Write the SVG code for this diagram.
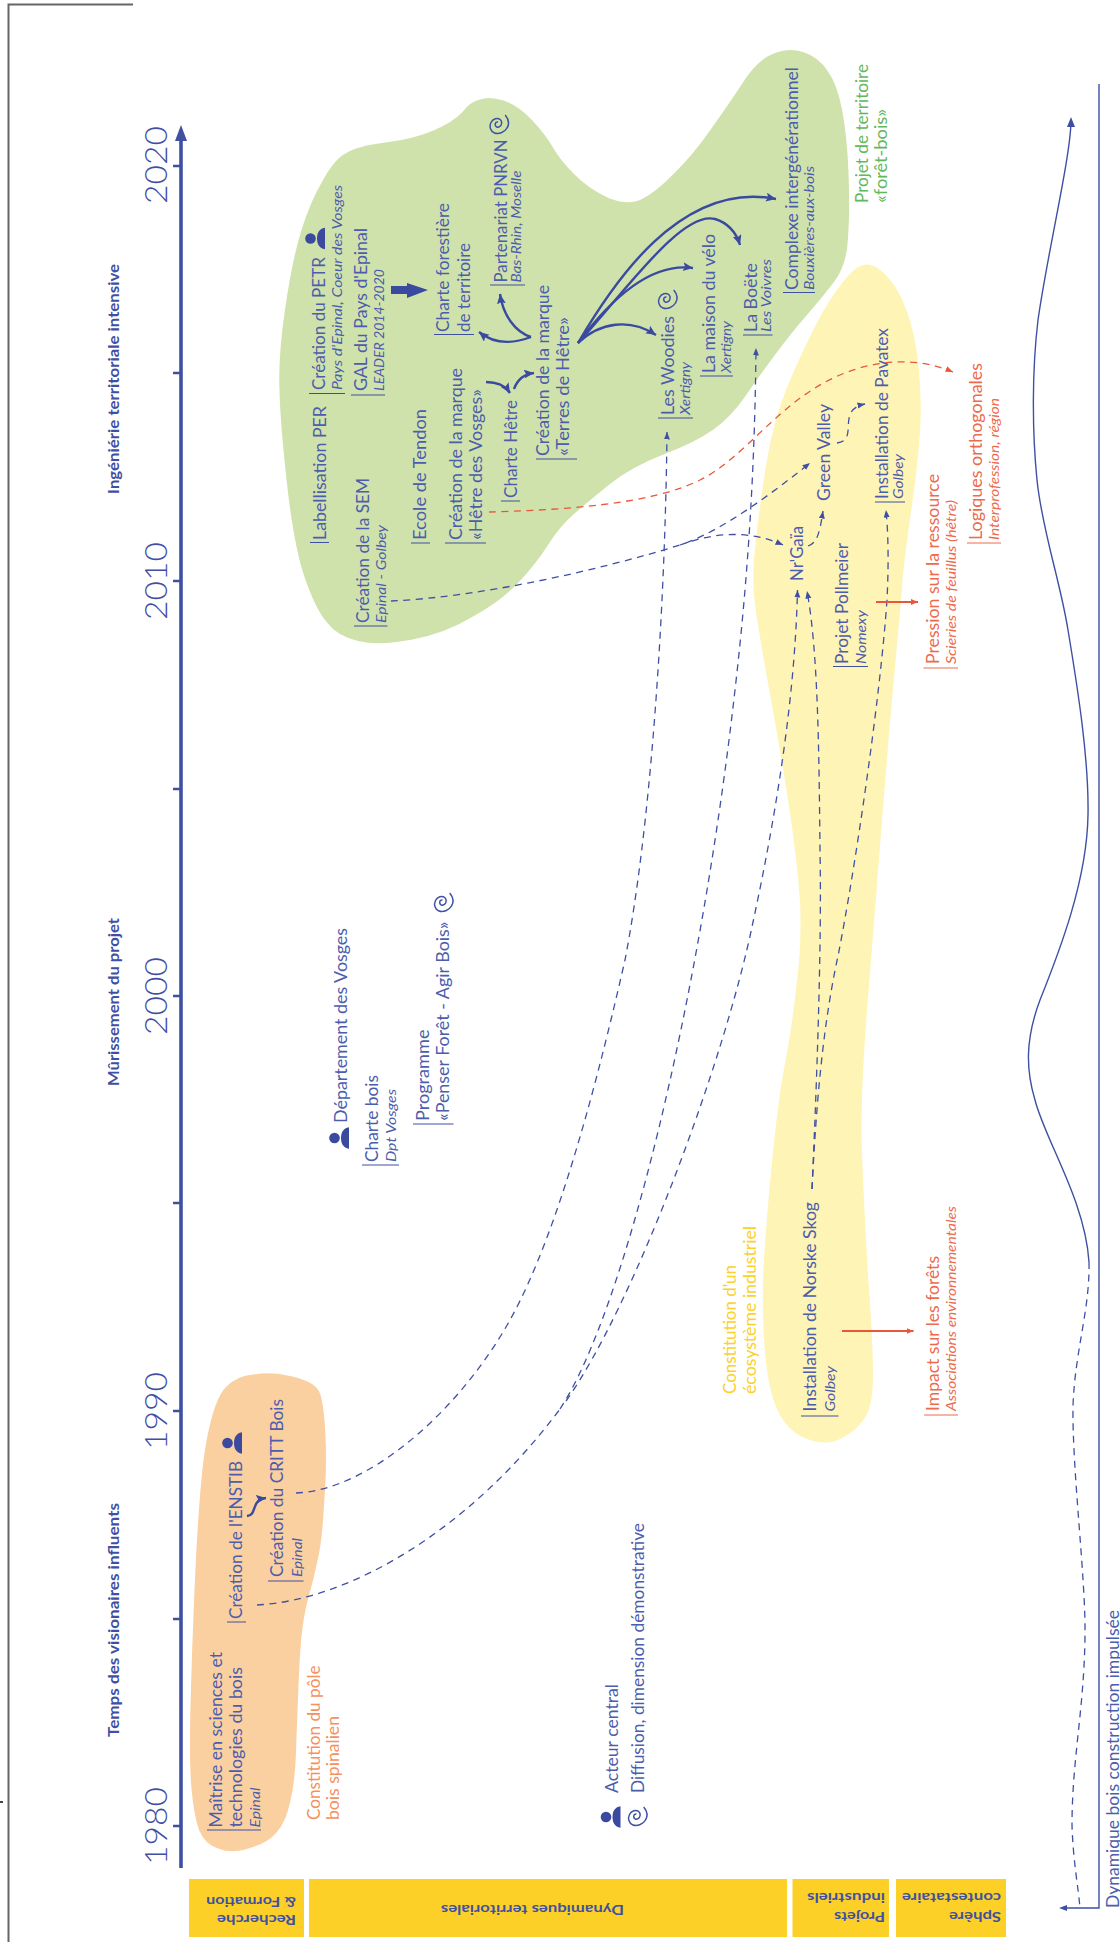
<svg xmlns="http://www.w3.org/2000/svg" xmlns:xlink="http://www.w3.org/1999/xlink" width="1120" height="1942" viewBox="0 0 1120 1942">
<style>
text{font-family:"Lato","Liberation Sans",sans-serif;fill:#4d5dad}
.m{font-size:17.500px;font-weight:400}
.i{font-size:14px;font-weight:400;font-style:italic}
.y{font-size:31px;font-weight:300;fill:#3f50a3}
.h{font-size:14.500px;font-weight:700;text-anchor:middle;fill:#3f50a3}
.b{font-size:14px;font-weight:700;fill:#3f50a3}
.r{fill:#ee6a4d}
.o{fill:#f5915e}
.g{fill:#62b85c}
.ye{fill:#fdd02a}
.bar{stroke:#3f50a3;stroke-width:1;fill:none}
.barr{stroke:#ee6a4d;stroke-width:1;fill:none}
.band{fill:#fcd026}
.d{fill:none;stroke:#3f50a3;stroke-width:1.300;stroke-dasharray:7 5.500}
.dr{fill:none;stroke:#e9573a;stroke-width:1.300;stroke-dasharray:7 5.500;marker-end:url(#ar)}
.t{fill:none;stroke:#3a4a9f;stroke-width:2.400;marker-end:url(#at)}
.tip{marker-end:url(#ad)}
.sol{fill:none;stroke:#3f50a3;stroke-width:1.400}
.sr{fill:none;stroke:#e9573a;stroke-width:1.800;marker-end:url(#ar2)}
.ic{fill:#3a4a9f}
.sp{fill:none;stroke:#3f50a3;stroke-width:1.500}
</style>
<defs>
<marker id="ad" markerUnits="userSpaceOnUse" markerWidth="9" markerHeight="7" refX="7.500" refY="3" orient="auto"><path d="M0,0 L7.500,3 L0,6 Z" fill="#3f50a3"/></marker>
<marker id="at" markerUnits="userSpaceOnUse" markerWidth="12" markerHeight="10" refX="10" refY="4.500" orient="auto"><path d="M0,0 L10,4.500 L0,9 L2,4.500 Z" fill="#3a4a9f"/></marker>
<marker id="ar" markerUnits="userSpaceOnUse" markerWidth="9" markerHeight="7" refX="7.500" refY="3" orient="auto"><path d="M0,0 L7.500,3 L0,6 Z" fill="#e9573a"/></marker>
<marker id="ar2" markerUnits="userSpaceOnUse" markerWidth="9" markerHeight="7" refX="7" refY="3" orient="auto"><path d="M0,0 L7,3 L0,6 Z" fill="#e9573a"/></marker>
<path id="spiral" class="sp" d="M6.700,-10 C10,-6 11,-1 8.500,3 C6,7.500 0,9.500 -4,8 C-8,6.500 -9.500,1.500 -7.500,-2.500 C-5.500,-6.500 -1,-7.500 1.700,-5.500 C4,-3.500 3.500,0 1,1.700 C-1,3 -3.500,1.500 -3.300,-0.700 C-3.200,-2.300 -1.700,-3.300 -0.500,-3"/>
<g id="actor"><circle class="ic" cx="-7.500" cy="0" r="5.300"/><path class="ic" d="M7,-10.700 C1,-10 -1,-5 -1,0 C-1,5 1,10 7,10.700 Z"/></g>
</defs>

<g id="blobs">
<path fill="#fbd0a1" d="M253.500,1374.500 Q271,1371 292.500,1376.500 Q316,1382 320,1393.500 Q324,1405 325.500,1436 Q327,1467 324,1505 Q322,1543 317.500,1560.500 Q314,1578 309.500,1593.500 Q305,1609 302.500,1628 Q300,1647 298.500,1685.500 Q297,1724 296,1752.500 Q295,1781 290.500,1800.500 Q286,1822 277,1832 Q268,1843 250,1848 Q232,1854 219.500,1849 Q205,1845 199,1830 Q194,1816 191.500,1789 Q189,1762 190.500,1704.500 Q192,1647 194.500,1589.500 Q197,1532 200.500,1489.500 Q204,1447 210.500,1422.500 Q217,1396 226,1387 Q236,1376 253.500,1374.500Z"/>
<path fill="#d0e2ab" d="M346.500,153 Q357,146 385.500,142.500 Q414,139 433.500,130.500 Q453,122 462,112.500 Q471,101 480,99.500 Q489,96 503.500,100.500 Q518,105 532,120 Q546,135 553,147.500 Q560,160 574.500,174.500 Q589,189 608.500,198 Q628,206 642,199 Q656,192 674,173.500 Q692,156 710,130.500 Q728,105 742,84 Q756,61 772.500,54 Q789,47 803,52 Q819,57 828,71.500 Q837,84 842,109.500 Q847,135 848.500,172.500 Q850,210 848,237.500 Q847,265 834,282 Q821,299 806.500,315.500 Q792,332 776,353.500 Q760,375 745.500,396 Q731,417 713.500,429.500 Q696,442 663.500,454.500 Q631,467 610,484 Q589,501 574.500,513.500 Q560,526 548,545 Q536,564 518,583 Q500,602 473,616.500 Q446,633 412.500,639.500 Q379,646 358,641 Q337,636 327,622.500 Q316,610 305,578.500 Q294,547 287,484 Q280,421 279.500,389.500 Q278,358 285,309.500 Q292,261 301,231.500 Q310,202 322.500,181 Q335,158 346.500,153Z"/>
<path fill="#fef4b6" d="M853,271 Q867,258 881.500,271 Q897,284 906,309 Q915,332 918.500,366 Q922,400 920,431.500 Q918,463 912,505 Q906,547 903,574.500 Q901,602 895,667 Q889,732 881.500,827 Q874,922 867,1011 Q860,1100 862,1153.500 Q864,1207 868,1274.500 Q873,1342 873,1374 Q873,1408 864,1419 Q856,1431 842,1438 Q828,1446 810,1440 Q791,1434 780.500,1416 Q770,1398 766,1362 Q762,1326 763,1280 Q765,1234 771.500,1167 Q778,1100 785,1063.500 Q792,1027 796.500,985 Q802,943 800,901 Q797,859 789,806.500 Q781,754 770.500,697 Q760,640 755.500,608.500 Q751,577 755.500,543.500 Q759,510 766,465.500 Q773,421 788,385 Q803,349 821,315 Q839,284 853,271Z"/>
</g>

<g id="frame">
<path d="M133,4.500 H8.500 V1942" fill="none" stroke="#666" stroke-width="2"/>
<path d="M0,1802 H3" stroke="#444" stroke-width="2"/>
</g>

<g id="axis">
<path d="M181,1868 V138" stroke="#3f50a3" stroke-width="3.600" fill="none"/>
<path d="M175,141 L181,125 L187,141 Z" fill="#3f50a3"/>
<path d="M173,166 H181 M173,373 H181 M173,581 H181 M173,789 H181 M173,996 H181 M173,1203 H181 M173,1411 H181 M173,1619 H181 M173,1826 H181" stroke="#3f50a3" stroke-width="2.400" fill="none"/>
<text class="y" text-anchor="middle" transform="translate(167,165) rotate(-90)" textLength="78" lengthAdjust="spacingAndGlyphs">2020</text>
<text class="y" text-anchor="middle" transform="translate(167,581) rotate(-90)" textLength="78" lengthAdjust="spacingAndGlyphs">2010</text>
<text class="y" text-anchor="middle" transform="translate(167,996) rotate(-90)" textLength="78" lengthAdjust="spacingAndGlyphs">2000</text>
<text class="y" text-anchor="middle" transform="translate(167,1411) rotate(-90)" textLength="78" lengthAdjust="spacingAndGlyphs">1990</text>
<text class="y" text-anchor="middle" transform="translate(167,1826) rotate(-90)" textLength="78" lengthAdjust="spacingAndGlyphs">1980</text>
<text class="h" transform="translate(119,379) rotate(-90)" textLength="230" lengthAdjust="spacingAndGlyphs">Ingéniérie territoriale intensive</text>
<text class="h" transform="translate(119,1002) rotate(-90)" textLength="168" lengthAdjust="spacingAndGlyphs">Mûrissement du projet</text>
<text class="h" transform="translate(119,1620) rotate(-90)" textLength="234" lengthAdjust="spacingAndGlyphs">Temps des visionaires influents</text>
</g>

<g id="bands">
<rect class="band" x="189" y="1879" width="115" height="58"/>
<rect class="band" x="309" y="1879" width="478" height="58"/>
<rect class="band" x="792.500" y="1879" width="96.500" height="58"/>
<rect class="band" x="896" y="1879" width="110" height="58"/>
<text class="b" transform="translate(296,1915) rotate(180)" textLength="79" lengthAdjust="spacingAndGlyphs">Recherche</text>
<text class="b" transform="translate(296,1897) rotate(180)" textLength="90" lengthAdjust="spacingAndGlyphs">&amp; Formation</text>
<text class="b" transform="translate(624,1905) rotate(180)" textLength="183" lengthAdjust="spacingAndGlyphs">Dynamiques territoriales</text>
<text class="b" transform="translate(885,1912) rotate(180)" textLength="51" lengthAdjust="spacingAndGlyphs">Projets</text>
<text class="b" transform="translate(885,1893) rotate(180)" textLength="78" lengthAdjust="spacingAndGlyphs">industriels</text>
<text class="b" transform="translate(1001,1912) rotate(180)" textLength="52" lengthAdjust="spacingAndGlyphs">Sphère</text>
<text class="b" transform="translate(1001,1893) rotate(180)" textLength="99" lengthAdjust="spacingAndGlyphs">contestataire</text>
</g>

<g id="connectors">
<path class="d tip" d="M296,1493 C370,1490 460,1410 510,1320 C560,1230 600,1070 625,960 C650,830 665,620 667,432"/>
<path class="d" d="M257,1605 C350,1600 470,1530 560,1409"/>
<path class="d tip" d="M560,1409 C625,1310 700,1000 735,690 C750,560 755,450 756,348"/>
<path class="d tip" d="M566,1401 C634,1305 725,1060 753,922 C775,820 795,700 797.500,590"/>
<path class="d tip" d="M812,1189 C816,1100 822,950 820,850 C819,750 818,650 807,591"/>
<path class="d tip" d="M812,1189 C816,1110 822,1030 838,956 C855,870 880,700 887,600 C889,560 888,530 886,510"/>
<path class="d" d="M391,601 C480,597 600,570 680,545"/>
<path class="d tip" d="M680,545 C715,532 750,530 783,545"/>
<path class="d tip" d="M686,543 C725,528 770,495 810,463"/>
<path class="d tip" d="M808,546 C818,543 820,530 823,511"/>
<path class="d tip" d="M837,443 C860,440 835,410 865,404"/>
<path class="dr" d="M489,512 C560,510 650,505 700,480 C745,458 780,400 840,375 C880,358 920,358 953,372"/>
<path class="sr" d="M876,602 H918"/>
<path class="sr" d="M842,1331 H913.500"/>
<path class="sol" d="M1071,122 C1070,160 1048,250 1038,320 C1032,370 1032,430 1037,480 C1042,530 1060,580 1068,630 C1078,690 1089,760 1088,815 C1087,880 1060,950 1040,1000 C1025,1040 1026,1070 1035,1100 C1045,1140 1085,1200 1089,1262"/>
<path d="M1067,127 L1071,117 L1075,127 Z" fill="#3f50a3"/>
<path class="d" d="M1089,1262 C1090,1310 1075,1350 1073,1406 C1072,1470 1086,1580 1085,1637 C1084,1710 1072,1760 1072,1825 C1073,1860 1078,1885 1080,1908"/>
<path class="sol" d="M1099,84 V1908 H1065"/>
<path d="M1067,1905 L1059,1908 L1067,1911 Z" fill="#3f50a3"/>
<path d="M391,286 H407 V283 L428,290 L407,298 V294 H391 Z" fill="#3a4a9f"/>
<path class="t" d="M531,337 C515,343 495,345 479,332"/>
<path class="t" d="M531,337 C515,332 503,315 500,294"/>
<path class="t" d="M486,382 C497,382 505,385 510,393"/>
<path class="t" d="M514,389 C518,378 525,374 534,373"/>
<path class="t" d="M578,343 C600,322 630,318 656,335"/>
<path class="t" d="M578,343 C610,300 650,262 693,268"/>
<path class="t" d="M578,343 C625,292 682,210 715,219 C728,223 736,232 740,245"/>
<path class="t" d="M578,343 C612,285 680,180 776,199"/>
<path class="t" d="M247,1516 C258,1515 250,1500 266,1498"/>
</g>

<g id="n-labellisation"><path class="bar" d="M310,542.500 H329"/><text class="m" transform="translate(326,540) rotate(-90)" textLength="134" lengthAdjust="spacingAndGlyphs">Labellisation PER</text></g>
<g id="n-petr"><path class="bar" d="M309,393.500 H345"/><text class="m" transform="translate(325,390) rotate(-90)" textLength="133" lengthAdjust="spacingAndGlyphs">Création du PETR</text><text class="i" transform="translate(342,390) rotate(-90)" textLength="205" lengthAdjust="spacingAndGlyphs">Pays d'Epinal, Coeur des Vosges</text><use href="#actor" x="318" y="238.500"/></g>
<g id="n-gal"><path class="bar" d="M351,395 H385"/><text class="m" transform="translate(366.500,391) rotate(-90)" textLength="163" lengthAdjust="spacingAndGlyphs">GAL du Pays d'Epinal</text><text class="i" transform="translate(384,391) rotate(-90)" textLength="122" lengthAdjust="spacingAndGlyphs">LEADER 2014-2020</text></g>
<g id="n-sem"><path class="bar" d="M354,626 H387.500"/><text class="m" transform="translate(369,623) rotate(-90)" textLength="145" lengthAdjust="spacingAndGlyphs">Création de la SEM</text><text class="i" transform="translate(386,623) rotate(-90)" textLength="98" lengthAdjust="spacingAndGlyphs">Epinal - Golbey</text></g>
<g id="n-tendon"><path class="bar" d="M411,543 H430"/><text class="m" transform="translate(425.500,540) rotate(-90)" textLength="131" lengthAdjust="spacingAndGlyphs">Ecole de Tendon</text></g>
<g id="n-hetre-vosges"><path class="bar" d="M445,543 H486"/><text class="m" transform="translate(461.500,540) rotate(-90)" textLength="172" lengthAdjust="spacingAndGlyphs">Création de la marque</text><text class="m" transform="translate(482,540) rotate(-90)" textLength="151" lengthAdjust="spacingAndGlyphs">«Hêtre des Vosges»</text></g>
<g id="n-charte-hetre"><path class="bar" d="M501,501 H520"/><text class="m" transform="translate(516.500,498) rotate(-90)" textLength="98" lengthAdjust="spacingAndGlyphs">Charte Hêtre</text></g>
<g id="n-charte-forestiere"><path class="bar" d="M434,334.500 H474"/><text class="m" transform="translate(449,332) rotate(-90)" textLength="129" lengthAdjust="spacingAndGlyphs">Charte forestière</text><text class="m" transform="translate(469.500,332) rotate(-90)" textLength="89" lengthAdjust="spacingAndGlyphs">de territoire</text></g>
<g id="n-pnrvn"><path class="bar" d="M490,285 H525"/><text class="m" transform="translate(506.500,282.500) rotate(-90)" textLength="143" lengthAdjust="spacingAndGlyphs">Partenariat PNRVN</text><text class="i" transform="translate(520.500,282.500) rotate(-90)" textLength="112" lengthAdjust="spacingAndGlyphs">Bas-Rhin, Moselle</text><use href="#spiral" x="498.500" y="125"/></g>
<g id="n-terres-hetre"><path class="bar" d="M536,459 H577"/><text class="m" transform="translate(549,456) rotate(-90)" textLength="171" lengthAdjust="spacingAndGlyphs">Création de la marque</text><text class="m" transform="translate(568.500,456) rotate(-90)" textLength="139" lengthAdjust="spacingAndGlyphs">«Terres de Hêtre»</text></g>
<g id="n-woodies"><path class="bar" d="M658,418 H693"/><text class="m" transform="translate(673.500,415) rotate(-90)" textLength="99" lengthAdjust="spacingAndGlyphs">Les Woodies</text><text class="i" transform="translate(690,415) rotate(-90)" textLength="53" lengthAdjust="spacingAndGlyphs">Xertigny</text><use href="#spiral" x="667" y="300"/></g>
<g id="n-velo"><path class="bar" d="M700,376 H733"/><text class="m" transform="translate(715,373) rotate(-90)" textLength="139" lengthAdjust="spacingAndGlyphs">La maison du vélo</text><text class="i" transform="translate(730.500,373) rotate(-90)" textLength="52" lengthAdjust="spacingAndGlyphs">Xertigny</text></g>
<g id="n-boete"><path class="bar" d="M743,335 H772.500"/><text class="m" transform="translate(756.500,332) rotate(-90)" textLength="69" lengthAdjust="spacingAndGlyphs">La Boëte</text><text class="i" transform="translate(770.500,332) rotate(-90)" textLength="73" lengthAdjust="spacingAndGlyphs">Les Voivres</text></g>
<g id="n-complexe"><path class="bar" d="M783,292.500 H815"/><text class="m" transform="translate(797.500,290) rotate(-90)" textLength="223" lengthAdjust="spacingAndGlyphs">Complexe intergénérationnel</text><text class="i" transform="translate(814,290) rotate(-90)" textLength="124" lengthAdjust="spacingAndGlyphs">Bouxières-aux-bois</text></g>
<g id="n-projet-territoire"><text class="m g" transform="translate(868,203) rotate(-90)" textLength="139" lengthAdjust="spacingAndGlyphs">Projet de territoire</text><text class="m g" transform="translate(887,203) rotate(-90)" textLength="94" lengthAdjust="spacingAndGlyphs">«forêt-bois»</text></g>
<g id="n-nrgaia"><text class="m" transform="translate(803,581) rotate(-90)" textLength="55" lengthAdjust="spacingAndGlyphs">Nr'Gaïa</text></g>
<g id="n-green-valley"><text class="m" transform="translate(829.500,501) rotate(-90)" textLength="97" lengthAdjust="spacingAndGlyphs">Green Valley</text></g>
<g id="n-pavatex"><path class="bar" d="M875,502 H905"/><text class="m" transform="translate(887.500,499) rotate(-90)" textLength="171" lengthAdjust="spacingAndGlyphs">Installation de Pavatex</text><text class="i" transform="translate(903,499) rotate(-90)" textLength="45" lengthAdjust="spacingAndGlyphs">Golbey</text></g>
<g id="n-pression"><path class="barr" d="M923.500,668 H958"/><text class="m r" transform="translate(939,664) rotate(-90)" textLength="190" lengthAdjust="spacingAndGlyphs">Pression sur la ressource</text><text class="i r" transform="translate(955.500,664) rotate(-90)" textLength="164" lengthAdjust="spacingAndGlyphs">Scieries de feuillus (hêtre)</text></g>
<g id="n-logiques"><path class="barr" d="M967,543 H1001"/><text class="m r" transform="translate(982,540) rotate(-90)" textLength="177" lengthAdjust="spacingAndGlyphs">Logiques orthogonales</text><text class="i r" transform="translate(999,540) rotate(-90)" textLength="142" lengthAdjust="spacingAndGlyphs">Interprofession, région</text></g>
<g id="n-pollmeier"><path class="bar" d="M833,666.500 H868"/><text class="m" transform="translate(847.500,664) rotate(-90)" textLength="121" lengthAdjust="spacingAndGlyphs">Projet Pollmeier</text><text class="i" transform="translate(866,664) rotate(-90)" textLength="54" lengthAdjust="spacingAndGlyphs">Nomexy</text></g>
<g id="n-norske"><path class="bar" d="M801,1416 H838.500"/><text class="m" transform="translate(816,1411.500) rotate(-90)" textLength="209.500" lengthAdjust="spacingAndGlyphs">Installation de Norske Skog</text><text class="i" transform="translate(835,1411.500) rotate(-90)" textLength="45.500" lengthAdjust="spacingAndGlyphs">Golbey</text></g>
<g id="n-impact"><path class="barr" d="M924,1415 H958"/><text class="m r" transform="translate(939,1411) rotate(-90)" textLength="155" lengthAdjust="spacingAndGlyphs">Impact sur les forêts</text><text class="i r" transform="translate(955.500,1411) rotate(-90)" textLength="205" lengthAdjust="spacingAndGlyphs">Associations environnementales</text></g>
<g id="n-ecosysteme"><text class="m ye" transform="translate(736,1394) rotate(-90)" textLength="129" lengthAdjust="spacingAndGlyphs">Constitution d'un</text><text class="m ye" transform="translate(756,1394) rotate(-90)" textLength="168" lengthAdjust="spacingAndGlyphs">écosystème industriel</text></g>
<g id="legend"><text class="m" transform="translate(618,1793) rotate(-90)" textLength="109" lengthAdjust="spacingAndGlyphs">Acteur central</text><text class="m" transform="translate(644,1793) rotate(-90)" textLength="270" lengthAdjust="spacingAndGlyphs">Diffusion, dimension démonstrative</text><use href="#actor" x="613.500" y="1817"/><use href="#spiral" x="637" y="1817"/></g>
<g id="n-departement"><text class="m" transform="translate(347,1123) rotate(-90)" textLength="195" lengthAdjust="spacingAndGlyphs">Département des Vosges</text><use href="#actor" x="342" y="1138"/></g>
<g id="n-charte-bois"><path class="bar" d="M362,1165 H399"/><text class="m" transform="translate(377.500,1162) rotate(-90)" textLength="87" lengthAdjust="spacingAndGlyphs">Charte bois</text><text class="i" transform="translate(396,1162) rotate(-90)" textLength="73" lengthAdjust="spacingAndGlyphs">Dpt Vosges</text></g>
<g id="n-programme"><path class="bar" d="M413,1124 H453.500"/><text class="m" transform="translate(428.500,1121) rotate(-90)" textLength="91.500" lengthAdjust="spacingAndGlyphs">Programme</text><text class="m" transform="translate(449,1121) rotate(-90)" textLength="199.500" lengthAdjust="spacingAndGlyphs">«Penser Forêt - Agir Bois»</text><use href="#spiral" x="443" y="903"/></g>
<g id="n-maitrise"><path class="bar" d="M207,1830 H261"/><text class="m" transform="translate(222,1827.500) rotate(-90)" textLength="175.500" lengthAdjust="spacingAndGlyphs">Maîtrise en sciences et</text><text class="m" transform="translate(242,1827.500) rotate(-90)" textLength="160.500" lengthAdjust="spacingAndGlyphs">technologies du bois</text><text class="i" transform="translate(259.500,1827.500) rotate(-90)" textLength="40" lengthAdjust="spacingAndGlyphs">Epinal</text></g>
<g id="n-enstib"><path class="bar" d="M227,1622 H246"/><text class="m" transform="translate(242,1619) rotate(-90)" textLength="158" lengthAdjust="spacingAndGlyphs">Création de l'ENSTIB</text><use href="#actor" x="235" y="1443"/></g>
<g id="n-critt"><path class="bar" d="M268,1581 H303.500"/><text class="m" transform="translate(283,1577) rotate(-90)" textLength="178" lengthAdjust="spacingAndGlyphs">Création du CRITT Bois</text><text class="i" transform="translate(302,1577) rotate(-90)" textLength="39" lengthAdjust="spacingAndGlyphs">Epinal</text></g>
<g id="n-pole"><text class="m o" transform="translate(319.500,1820) rotate(-90)" textLength="154.500" lengthAdjust="spacingAndGlyphs">Constitution du pôle</text><text class="m o" transform="translate(339,1820) rotate(-90)" textLength="104" lengthAdjust="spacingAndGlyphs">bois spinalien</text></g>
<g id="n-dynamique"><text class="m" transform="translate(1119,1908) rotate(-90)" textLength="298" lengthAdjust="spacingAndGlyphs">Dynamique bois construction impulsée</text></g>
</svg>
